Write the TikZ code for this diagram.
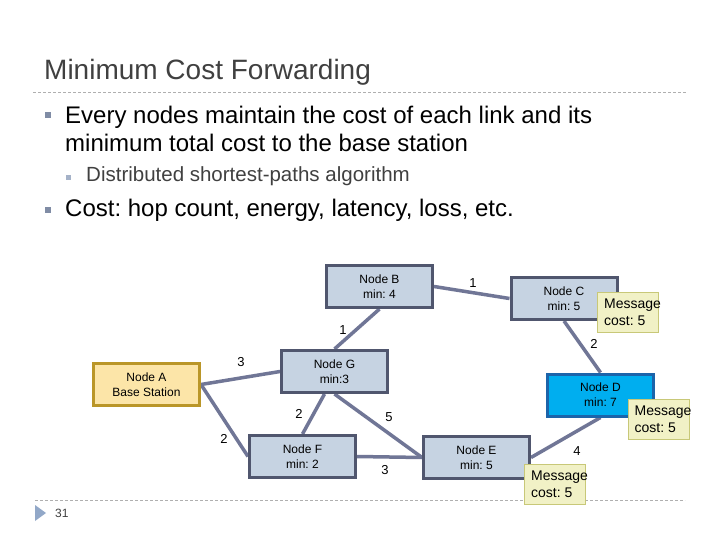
\documentclass[tikz,border=0pt]{standalone}
\usepackage{fontspec}
\setmainfont{Liberation Sans}
\frenchspacing
\pgfdeclarelayer{edges}
\pgfsetlayers{edges,main}
\definecolor{nodefill}{RGB}{198,211,226}
\definecolor{nodeborder}{RGB}{80,86,110}
\definecolor{edgecol}{RGB}{112,118,150}
\definecolor{afill}{RGB}{252,229,168}
\definecolor{aborder}{RGB}{186,150,40}
\definecolor{dfill}{RGB}{0,174,239}
\definecolor{dborder}{RGB}{28,100,170}
\definecolor{msgfill}{RGB}{241,241,198}
\definecolor{msgborder}{RGB}{200,200,120}
\definecolor{titlecol}{RGB}{64,64,64}
\definecolor{rulecol}{RGB}{175,175,175}
\definecolor{bulletcol}{RGB}{128,140,165}
\definecolor{subbulletcol}{RGB}{165,178,200}
\definecolor{pagetri}{RGB}{146,168,200}
\tikzset{
  nodebox/.style={draw=nodeborder, fill=nodefill, line width=3pt, minimum width=106pt, minimum height=42pt, inner sep=0pt, align=center, font=\fontsize{12}{15}\selectfont},
  msgbox/.style={draw=msgborder, fill=msgfill, line width=1pt, minimum width=61pt, minimum height=40pt, inner sep=0pt},
  msgtext/.style={anchor=west, inner sep=0pt, align=left, font=\fontsize{14}{17}\selectfont},
  link/.style={draw=edgecol, line width=3.5pt},
  lbl/.style={inner sep=0pt, font=\fontsize{13}{13}\selectfont},
  bodytext/.style={anchor=base west, inner sep=0pt, font=\fontsize{24}{28}\selectfont},
  rulerline/.style={draw=rulecol, line width=0.8pt, dash pattern=on 3pt off 2pt},
  bulletsq/.style={fill=bulletcol, draw=none, minimum size=6pt, inner sep=0pt},
  subbulletsq/.style={fill=subbulletcol, draw=none, minimum size=5pt, inner sep=0pt}
}
\begin{document}
\begin{tikzpicture}[x=1pt,y=-1pt]
\begin{pgfonlayer}{edges}
\fill[white] (0,0) rectangle (720,540);
\end{pgfonlayer}
\useasboundingbox (0,0) rectangle (720,540);

% title and rules
\node[anchor=base west, inner sep=0pt, text=titlecol, font=\fontsize{28}{30}\selectfont] (title) at (44,80) {Minimum Cost Forwarding};
\coordinate (r1a) at (33,92);
\coordinate (r1b) at (687,92);
\draw[rulerline] (r1a) -- (r1b);
\coordinate (r2a) at (35,500);
\coordinate (r2b) at (685,500);
\draw[rulerline] (r2a) -- (r2b);

% bullets
\node[bulletsq] (b1) at (48,115.5) {};
\node[bodytext] (t1) at (65,124) {Every nodes maintain the cost of each link and its};
\node[bodytext] (t2) at (65,152) {minimum total cost to the base station};
\node[subbulletsq] (b2) at (68.5,177.5) {};
\node[anchor=base west, inner sep=0pt, text=titlecol, font=\fontsize{20.5}{24}\selectfont] (t3) at (86,182) {Distributed shortest-paths algorithm};
\node[bulletsq] (b3) at (48,210) {};
\node[bodytext] (t4) at (65,216) {Cost: hop count, energy, latency, loss, etc.};

% nodes
\node[nodebox] (b) at (379.5,286.5) {Node B\\min: 4};
\node[nodebox] (c) at (564,298.5) {Node C\\min: 5};
\node[nodebox] (g) at (334.5,371.5) {Node G\\min:3};
\node[nodebox, draw=dborder, fill=dfill] (d) at (600.5,395) {Node D\\min: 7};
\node[nodebox] (e) at (476.5,457.5) {Node E\\min: 5};
\node[nodebox] (f) at (302.5,456.5) {Node F\\min: 2};
\node[nodebox, draw=aborder, fill=afill] (a) at (146.5,384.5) {Node A\\Base Station};

% links
\begin{pgfonlayer}{edges}
\draw[link] (b.east) -- (c.west);
\draw[link] (b.south) -- (g.north);
\draw[link] (c.south) -- (d.north);
\draw[link] (a.east) -- (g.west);
\draw[link] (a.east) -- (f.west);
\draw[link] ([xshift=-10pt]g.south) -- (f.north);
\draw[link] (g.south) -- (e.west);
\draw[link] (f.east) -- (e.west);
\draw[link] (e.east) -- (d.south);
\end{pgfonlayer}

% link labels
\node[lbl] (lbc) at (473,283) {1};
\node[lbl] (lbg) at (343,330) {1};
\node[lbl] (lcd) at (594,344) {2};
\node[lbl] (lag) at (241,362) {3};
\node[lbl] (laf) at (224,439) {2};
\node[lbl] (lgf) at (299,414) {2};
\node[lbl] (lge) at (389,417) {5};
\node[lbl] (lfe) at (385,470) {3};
\node[lbl] (led) at (577,451) {4};

% messages
\node[msgbox] (mc) at (628,312.5) {};
\node[msgtext] (mct) at ([xshift=7pt]mc.west) {Message\\cost: 5};
\node[msgbox] (md) at (658.5,419.5) {};
\node[msgtext] (mdt) at ([xshift=7pt]md.west) {Message\\cost: 5};
\node[msgbox] (me) at (555,484.5) {};
\node[msgtext] (met) at ([xshift=7pt]me.west) {Message\\cost: 5};

% page number
\fill[pagetri] (35,505) -- (35,521) -- (46,513) -- cycle;
\node[anchor=west, inner sep=0pt, text=titlecol, font=\fontsize{12}{12}\selectfont] (pg) at (55,513) {31};
\end{tikzpicture}
\end{document}
